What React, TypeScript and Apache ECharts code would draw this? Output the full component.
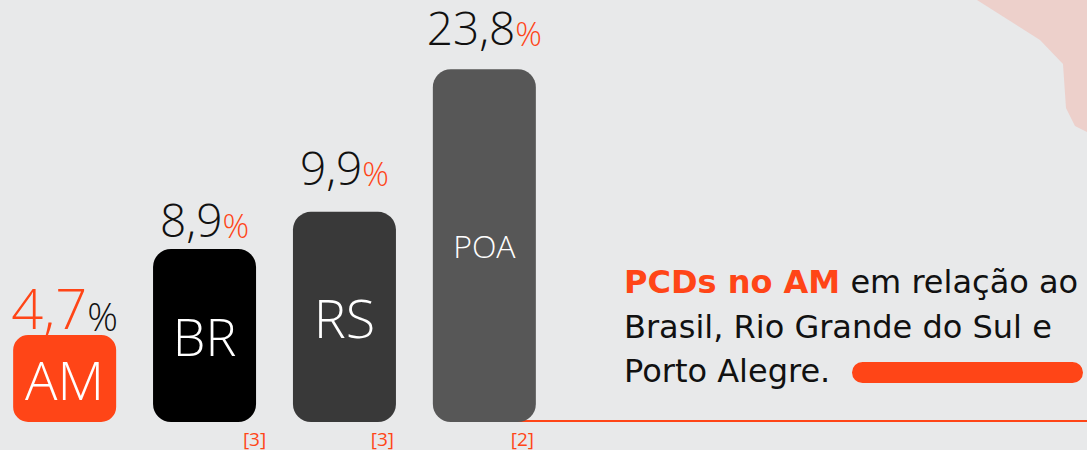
import React, { useEffect, useRef } from "react";
import * as echarts from "echarts";

const categories = ["AM", "BR", "RS", "POA"];
const values = [4.7, 8.9, 9.9, 23.8]; // percentages shown above the bars
const barHeights = [20.6, 41.0, 49.8, 83.6]; // drawn height of each bar (0–100 visual scale)
const footnotes = ["", "[3]", "[3]", "[2]"];
const barColors = ["#ff4517", "#000000", "#393939", "#575757"];
const insideSizes = [54, 52, 54, 32];
const labelGaps = [0, 7, 22, 19];

const ORANGE = "#ff4517";
const FONT = "'Open Sans', sans-serif";
const PFONT = "'DejaVu Sans', sans-serif";

const fmt = (v: number) => v.toFixed(1).replace(".", ",");

export default function App() {
  const ref = useRef<HTMLDivElement>(null);
  useEffect(() => {
    if (!ref.current) return;
    const chart = echarts.init(ref.current, undefined, { renderer: "svg" });
    const option: any = {
      animation: false,
      backgroundColor: "#e8e9ea",
      textStyle: { fontFamily: FONT },
      grid: { left: -5.3, width: 559.6, top: 0, bottom: 28, outerBoundsMode: "none", containLabel: false },
      xAxis: {
        type: "category",
        data: categories,
        axisLine: { show: false },
        axisTick: { show: false },
        axisLabel: {
          margin: 7,
          formatter: (_: string, i: number) =>
            footnotes[i] ? `{${i === 1 ? "fa" : "fb"}|${footnotes[i]}}` : "",
          rich: {
            fa: { fontSize: 19, color: ORANGE, fontFamily: FONT, padding: [0, 0, 0, 100] },
            fb: { fontSize: 19, color: ORANGE, fontFamily: FONT, padding: [0, 0, 0, 76] },
          },
        },
      },
      yAxis: { type: "value", min: 0, max: 100, show: false, splitLine: { show: false } },
      graphic: [
        {
          type: "polygon",
          z: -10,
          shape: {
            points: [
              [977, 0], [1087, 0], [1087, 132], [1075, 126], [1066, 108], [1063, 64], [1040, 40],
            ],
          },
          style: { fill: "rgba(255,120,95,0.22)" },
        },
        {
          type: "line",
          z: -5,
          shape: { x1: 500, y1: 421, x2: 1087, y2: 421 },
          style: { stroke: ORANGE, lineWidth: 2 },
        },
        {
          type: "text",
          left: 624,
          top: 266,
          style: {
            text: "{b|PCDs no AM}{n| em relação ao}\n{n|Brasil, Rio Grande do Sul e}\n{n|Porto Alegre.}",
            rich: {
              b: { fontSize: 32, fontWeight: "bold", fill: ORANGE, fontFamily: PFONT, lineHeight: 44.5 },
              n: { fontSize: 32, fill: "#111", fontFamily: PFONT, lineHeight: 44.5 },
            },
          },
        },
        {
          type: "rect",
          shape: { x: 852, y: 362, width: 231, height: 21, r: 10.5 },
          style: { fill: ORANGE },
        },
      ],
      series: [
        {
          type: "bar",
          barWidth: 103,
          data: barHeights.map((h, i) => ({
            value: h,
            itemStyle: { color: barColors[i], borderRadius: i === 0 ? 15 : 18 },
            label: {
              show: true,
              position: "inside",
              formatter: categories[i],
              color: "#fff",
              fontSize: insideSizes[i],
              fontWeight: 300,
              fontFamily: FONT,
            },
          })),
        },
        {
          type: "bar",
          barWidth: 103,
          barGap: "-100%",
          silent: true,
          data: barHeights.map((h, i) => ({
            value: h,
            itemStyle: { color: "transparent" },
            label: {
              show: true,
              position: "top",
              distance: labelGaps[i],
              formatter:
                i === 0
                  ? `{big|${fmt(values[i])}}{bp|%}`
                  : `{num|${fmt(values[i])}}{pc|%}`,
              rich: {
                big: { fontSize: 56, color: ORANGE, fontFamily: FONT, fontWeight: 300, lineHeight: 54, verticalAlign: "bottom" },
                bp: { fontSize: 38, color: "#111", fontFamily: FONT, fontWeight: 300, lineHeight: 40, verticalAlign: "bottom" },
                num: { fontSize: 46, color: "#111", fontFamily: FONT, fontWeight: 300, lineHeight: 44, verticalAlign: "bottom" },
                pc: { fontSize: 33, color: ORANGE, fontFamily: FONT, fontWeight: 300, lineHeight: 34, verticalAlign: "bottom" },
              },
            },
          })),
        },
      ],
    };
    chart.setOption(option);
    return () => chart.dispose();
  }, []);
  return (
    <div
      ref={ref}
      style={{ position: "fixed", left: 0, top: 0, width: 1087, height: 450 }}
    />
  );
}
